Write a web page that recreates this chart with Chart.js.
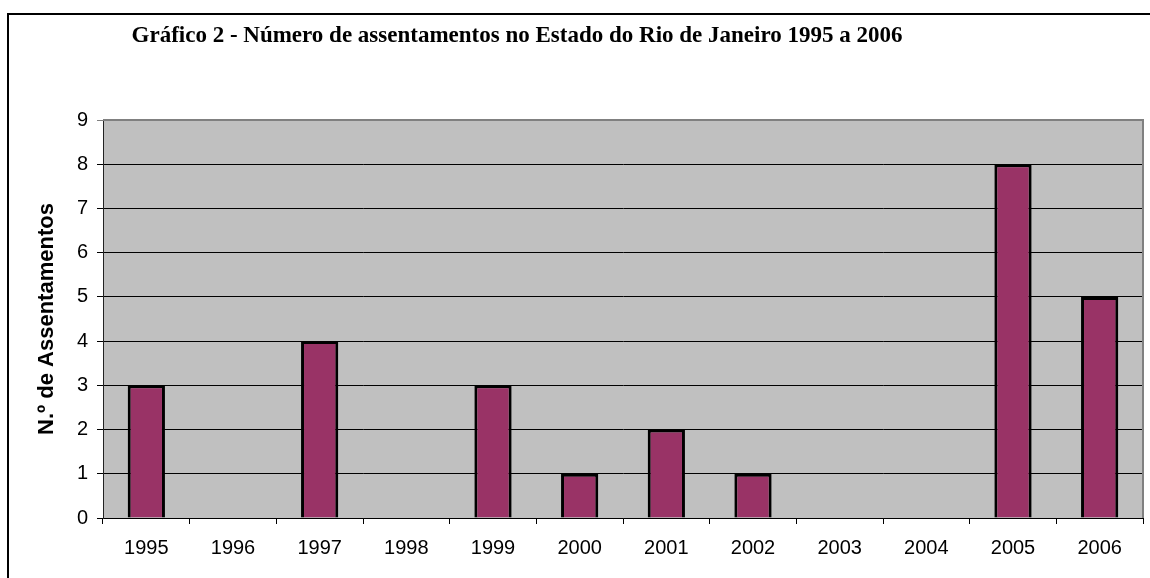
<!DOCTYPE html>
<html>
<head>
<meta charset="utf-8">
<script src="https://cdn.jsdelivr.net/npm/chart.js@4"></script>
<style>
    html, body { margin: 0; padding: 0; background: #fff; }
    #wrap { width: 1150px; height: 578px; }
</style>
</head>
<body>
<div id="wrap"><canvas id="myChart" width="1150" height="578"></canvas></div>
<script>
// data
var anos = ['1995', '1996', '1997', '1998', '1999', '2000', '2001', '2002', '2003', '2004', '2005', '2006'];
var assentamentos = [3, 0, 4, 0, 3, 1, 2, 1, 0, 0, 8, 5];
var y_ticks = [0, 1, 2, 3, 4, 5, 6, 7, 8, 9];

var titulo = 'Gráfico 2 - Número de assentamentos no Estado do Rio de Janeiro 1995 a 2006';
var eixo_y = 'N.º de Assentamentos';

// frame, gray plot background and title
var moldura = {
    id: 'moldura',
    beforeDraw: function(chart) {
        var c = chart.ctx;
        var a = chart.chartArea;
        c.save();
        c.fillStyle = '#fff';
        c.fillRect(0, 0, chart.width, chart.height);
        c.fillStyle = '#C0C0C0';
        c.fillRect(a.left, a.top, a.right - a.left, a.bottom - a.top);
        c.restore();
    },
    afterDraw: function(chart) {
        var c = chart.ctx;
        var a = chart.chartArea;
        c.save();
        // plot area border (top and right)
        c.strokeStyle = '#808080';
        c.lineWidth = 2;
        c.beginPath();
        c.moveTo(a.left, a.top);
        c.lineTo(a.right, a.top);
        c.lineTo(a.right, a.bottom);
        c.stroke();
        // outer frame
        c.strokeStyle = '#000';
        c.lineWidth = 2;
        c.beginPath();
        c.moveTo(8, 578);
        c.lineTo(8, 14);
        c.lineTo(1150, 14);
        c.stroke();
        // title
        c.fillStyle = '#000';
        c.font = 'bold 23px "Liberation Serif", "Times New Roman", serif';
        c.textAlign = 'center';
        c.textBaseline = 'middle';
        c.fillText(titulo, 517, 36);
        c.restore();
    }
};

var ctx = document.getElementById('myChart');
var myChart = new Chart(ctx, {
    type: 'bar',
    data: {
        labels: anos,
        datasets: [{
            label: eixo_y,
            data: assentamentos,
            backgroundColor: '#993366',
            borderColor: '#000',
            borderWidth: 3,
            barPercentage: 0.43,
            categoryPercentage: 1.0
        }]
    },
    options: {
        responsive: false,
        animation: false,
        layout: { padding: { left: 0, right: 7, top: 120, bottom: 0 } },
        plugins: {
            legend: { display: false },
            title: { display: false },
            tooltip: { enabled: false }
        },
        scales: {
            x: {
                afterFit: function(scale) { scale.height = 60; },
                grid: {
                    offset: true,
                    drawOnChartArea: false,
                    drawTicks: true,
                    tickLength: 6,
                    color: '#000'
                },
                border: { color: '#000', width: 1 },
                ticks: {
                    color: '#000',
                    padding: 12,
                    font: { family: '"Liberation Sans", Arial, sans-serif', size: 20 }
                }
            },
            y: {
                min: 0,
                max: 9,
                afterFit: function(scale) { scale.width = 103; },
                afterBuildTicks: function(scale) {
                    scale.ticks = y_ticks.map(function(v) { return { value: v }; });
                },
                grid: {
                    color: function(c) { return c.tick && c.tick.value === 9 ? '#808080' : '#000'; },
                    tickLength: 6,
                    lineWidth: 1
                },
                border: { color: '#222', width: 1 },
                ticks: {
                    color: '#000',
                    padding: 9,
                    font: { family: '"Liberation Sans", Arial, sans-serif', size: 20 }
                },
                title: {
                    display: true,
                    text: eixo_y,
                    color: '#000',
                    padding: { top: 34, bottom: 0 },
                    font: { family: '"Liberation Sans", Arial, sans-serif', size: 22, weight: 'bold' }
                }
            }
        }
    },
    plugins: [moldura]
});
</script>
</body>
</html>
